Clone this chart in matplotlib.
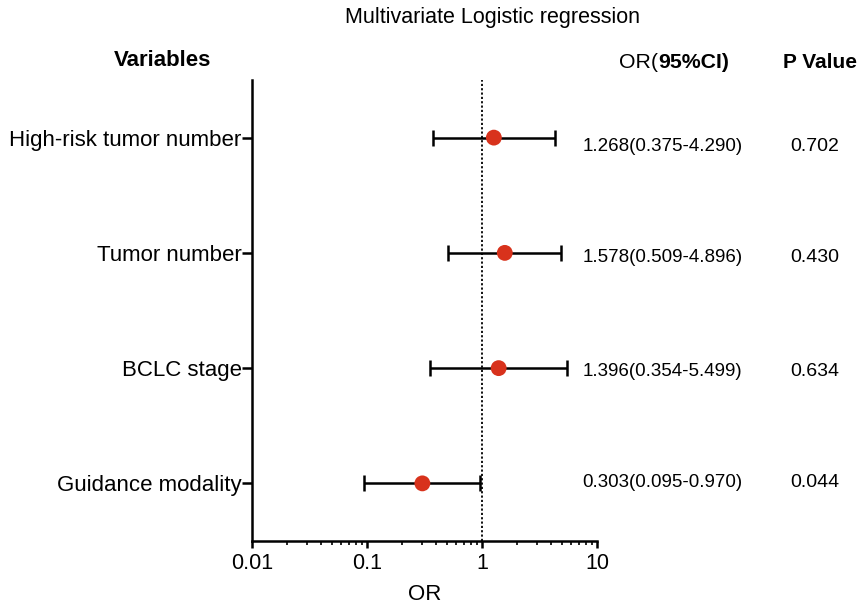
import matplotlib
matplotlib.use("Agg")
import matplotlib.pyplot as plt
import numpy as np

plt.rcParams['font.family'] = ['Liberation Sans', 'DejaVu Sans']

variables = ["High-risk tumor number", "Tumor number", "BCLC stage", "Guidance modality"]
or_vals = [1.268, 1.578, 1.396, 0.303]
ci_low = [0.375, 0.509, 0.354, 0.095]
ci_high = [4.290, 4.896, 5.499, 0.970]
p_vals = ["0.702", "0.430", "0.634", "0.044"]
or_text = ["1.268(0.375-4.290)", "1.578(0.509-4.896)", "1.396(0.354-5.499)", "0.303(0.095-0.970)"]
xticks = [0.01, 0.1, 1, 10]
xtick_labels = ["0.01", "0.1", "1", "10"]

# text baselines of the right-hand columns (pixels from top)
col_baselines = [151, 262, 376, 487]

W, H = 865, 605
fig = plt.figure(figsize=(W/100, H/100), dpi=100)
ax = fig.add_axes([252/W, 1-541/H, (597-252)/W, (541-80)/H])

ypos = np.arange(len(variables), 0, -1)
or_arr = np.array(or_vals)
xerr = [or_arr - np.array(ci_low), np.array(ci_high) - or_arr]
ax.errorbar(or_arr, ypos, xerr=xerr, fmt='none', ecolor='black', elinewidth=1.8,
            capsize=6, capthick=1.8, zorder=2)
ax.scatter(or_arr, ypos, s=130, color='#d8321c', zorder=3, edgecolors='none')
ax.axvline(1, color='black', linestyle=(0, (1.2, 1.2)), linewidth=1.3, zorder=1)

ax.set_xscale('log')
ax.set_xlim(0.01, 10)
ax.set_ylim(0.5, 4.5)
ax.set_xticks(xticks)
ax.set_xticklabels(xtick_labels, fontsize=15.5)
ax.set_yticks(ypos)
ax.set_yticklabels(variables, fontsize=16)
ax.tick_params(axis='both', width=1.8, direction='out')
ax.tick_params(axis='x', which='major', length=5, pad=3.5)
ax.tick_params(axis='x', which='minor', width=1.2, length=3)
ax.tick_params(axis='y', length=7, pad=0.5)
for s in ['top', 'right']:
    ax.spines[s].set_visible(False)
for s in ['left', 'bottom']:
    ax.spines[s].set_linewidth(1.8)

fig.text(424.5/W, 1-594/H, "OR", ha='center', va='center', fontsize=16)

# column texts
for yb, t, p in zip(col_baselines, or_text, p_vals):
    yf = 1 - yb / H
    fig.text(662.5/W, yf, t, ha='center', va='baseline', fontsize=13.5)
    fig.text(815/W, yf, p, ha='center', va='baseline', fontsize=14)

fig.text(492.5/W, 1-17/H, "Multivariate Logistic regression", ha='center', va='center', fontsize=15.5)
fig.text(162.5/W, 1-61/H, "Variables", ha='center', va='center', fontsize=16, fontweight='bold')
fig.text(820/W, 1-63/H, "P Value", ha='center', va='center', fontsize=15, fontweight='bold')
t1 = fig.text(619/W, 1-63/H, "OR(", ha='left', va='center', fontsize=15.3)
fig.canvas.draw()
bb = t1.get_window_extent()
fig.text(bb.x1/W, 1-63/H, "95%CI)", ha='left', va='center', fontsize=15.3, fontweight='bold')

fig.savefig("out.png", dpi=100)
